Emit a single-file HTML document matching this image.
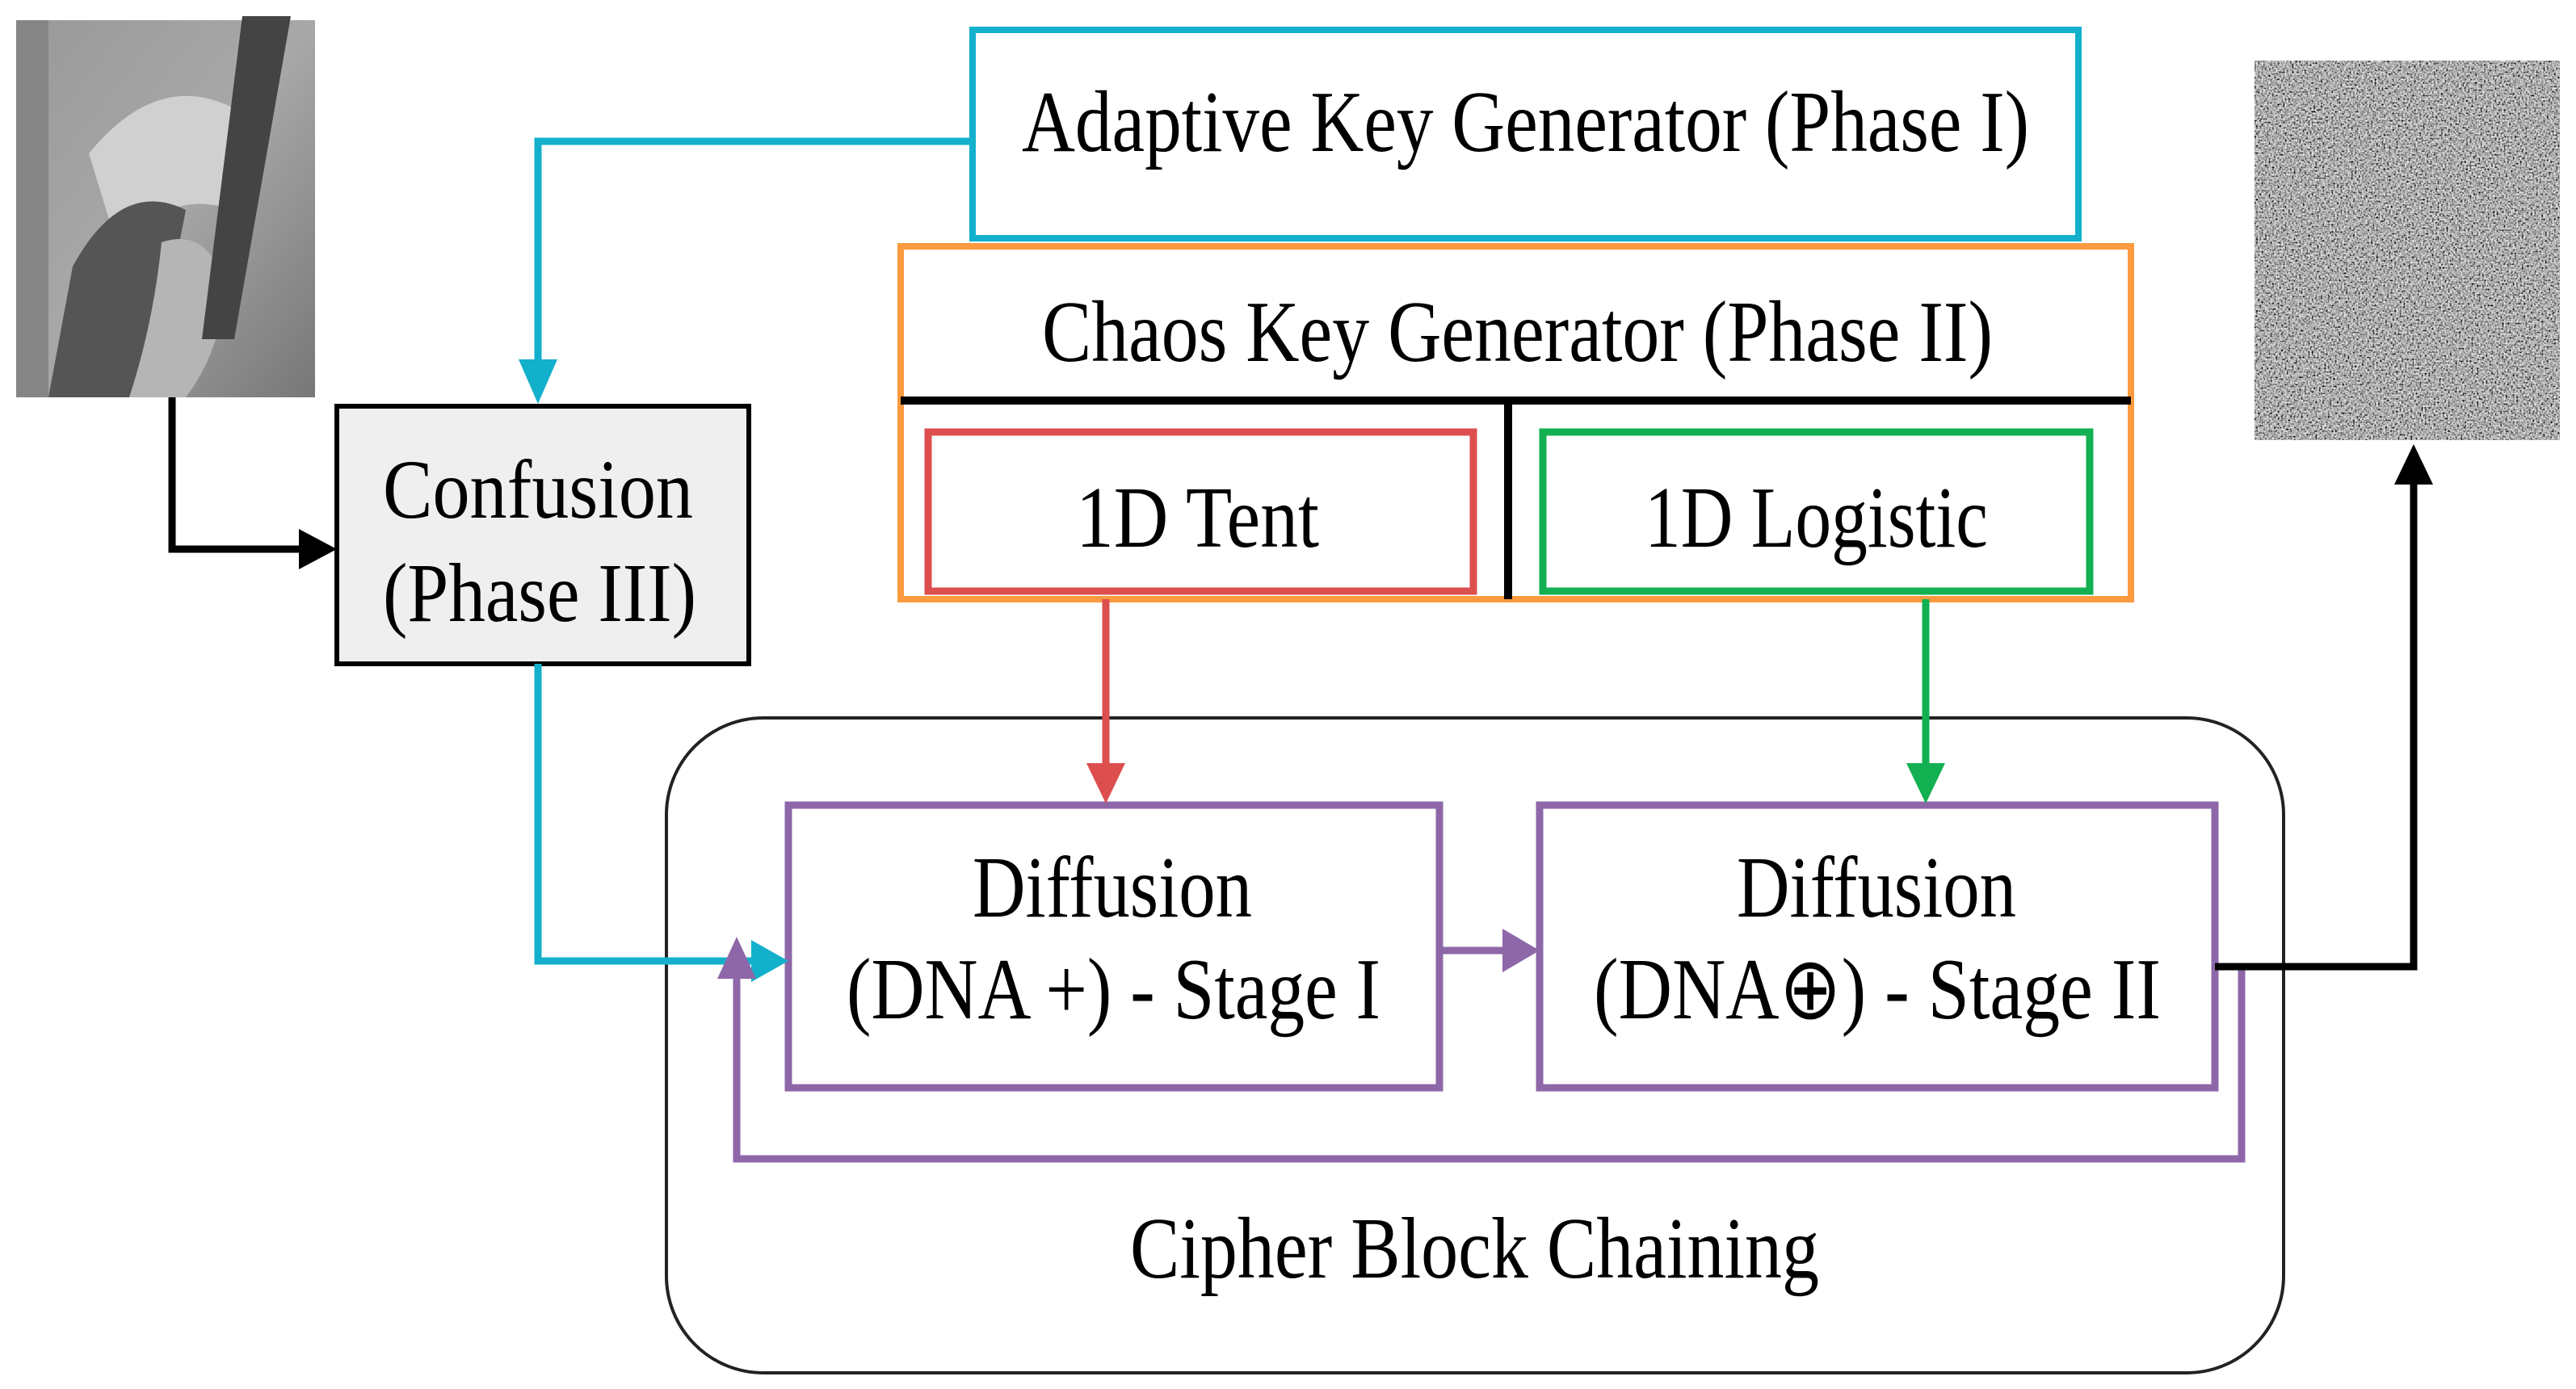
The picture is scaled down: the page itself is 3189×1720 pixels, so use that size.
<!DOCTYPE html>
<html><head><meta charset="utf-8"><style>html,body{margin:0;padding:0;background:#fff}svg{display:block}</style></head>
<body>
<svg width="3189" height="1720" viewBox="0 0 3189 1720" xmlns="http://www.w3.org/2000/svg" font-family="'Liberation Serif', serif">
<defs>
<filter id="gn" x="0" y="0" width="100%" height="100%">
<feTurbulence type="fractalNoise" baseFrequency="0.45" numOctaves="1" seed="5" result="t"/>
<feColorMatrix in="t" type="saturate" values="0" result="g"/>
<feComponentTransfer in="g"><feFuncR type="linear" slope="2.6" intercept="-0.85"/><feFuncG type="linear" slope="2.6" intercept="-0.85"/><feFuncB type="linear" slope="2.6" intercept="-0.85"/><feFuncA type="linear" slope="0" intercept="1"/></feComponentTransfer>
</filter>
<linearGradient id="lg" x1="0" y1="0" x2="1" y2="1"><stop offset="0" stop-color="#999"/><stop offset="0.5" stop-color="#a8a8a8"/><stop offset="1" stop-color="#777"/></linearGradient>
</defs>

<!-- Lena approx -->
<rect x="20" y="25" width="370" height="467" fill="url(#lg)"/>
<path d="M110 190 Q200 80 300 140 Q330 200 290 260 Q200 230 150 320 Z" fill="#d0d0d0"/>
<path d="M90 330 Q150 220 230 260 Q200 420 160 492 L60 492 Z" fill="#555"/>
<path d="M200 300 Q260 280 280 360 Q270 440 230 492 L160 492 Q190 400 200 300Z" fill="#b5b5b5"/>
<path d="M300 20 L360 20 L290 420 L250 420 Z" fill="#444"/>
<rect x="20" y="25" width="40" height="467" fill="#858585"/>

<!-- Noise image -->
<rect x="2791" y="75" width="378" height="470" fill="#777"/>
<rect x="2791" y="75" width="378" height="470" filter="url(#gn)" opacity="0.9"/>

<!-- Adaptive key generator -->
<rect x="1204" y="37" width="1369" height="258" fill="#fff" stroke="#13b0cc" stroke-width="8"/>
<text x="1265" y="187" font-size="108" textLength="1247" lengthAdjust="spacingAndGlyphs">Adaptive Key Generator (Phase I)</text>

<!-- Chaos box -->
<rect x="1115" y="305" width="1523" height="437" fill="#fff" stroke="#fb9a3e" stroke-width="8"/>
<line x1="1115" y1="496" x2="2638" y2="496" stroke="#000" stroke-width="10"/>
<line x1="1867" y1="496" x2="1867" y2="742" stroke="#000" stroke-width="10"/>
<text x="1290" y="447" font-size="108" textLength="1177" lengthAdjust="spacingAndGlyphs">Chaos Key Generator (Phase II)</text>
<rect x="1149" y="535" width="675" height="197" fill="#fff" stroke="#dd4e4e" stroke-width="9"/>
<text x="1332" y="677" font-size="108" textLength="301" lengthAdjust="spacingAndGlyphs">1D Tent</text>
<rect x="1910" y="535" width="677" height="197" fill="#fff" stroke="#12b050" stroke-width="9"/>
<text x="2036" y="677" font-size="108" textLength="425" lengthAdjust="spacingAndGlyphs">1D Logistic</text>

<!-- Confusion -->
<rect x="417" y="503" width="510" height="319" fill="#efefef" stroke="#000" stroke-width="6"/>
<text x="474" y="641" font-size="104" textLength="384" lengthAdjust="spacingAndGlyphs">Confusion</text>
<text x="474" y="769" font-size="104" textLength="388" lengthAdjust="spacingAndGlyphs">(Phase III)</text>

<!-- CBC -->
<rect x="825" y="889" width="2002" height="811" rx="120" ry="120" fill="none" stroke="#222" stroke-width="4"/>
<text x="1399" y="1582" font-size="108" textLength="853" lengthAdjust="spacingAndGlyphs">Cipher Block Chaining</text>

<!-- Diffusion boxes -->
<rect x="976" y="997" width="806" height="350" fill="#fff" stroke="#8e67a9" stroke-width="9"/>
<text x="1204" y="1135" font-size="108" textLength="346" lengthAdjust="spacingAndGlyphs">Diffusion</text>
<text x="1048" y="1261" font-size="108" textLength="661" lengthAdjust="spacingAndGlyphs">(DNA +) - Stage I</text>
<rect x="1906" y="997" width="836" height="350" fill="#fff" stroke="#8e67a9" stroke-width="9"/>
<text x="2150" y="1135" font-size="108" textLength="346" lengthAdjust="spacingAndGlyphs">Diffusion</text>
<text x="1973" y="1261" font-size="108" textLength="702" lengthAdjust="spacingAndGlyphs">(DNA⊕) - Stage II</text>

<!-- Connectors -->
<g fill="none" stroke-width="9">
<polyline points="1204,175 666,175 666,455" stroke="#13b0cc"/>
<polyline points="666,822 666,1190 940,1190" stroke="#13b0cc"/>
<polyline points="213,492 213,680 380,680" stroke="#000"/>
<line x1="1369" y1="742" x2="1369" y2="955" stroke="#dd4e4e"/>
<line x1="2384" y1="742" x2="2384" y2="955" stroke="#12b050"/>
<line x1="1782" y1="1177" x2="1870" y2="1177" stroke="#8e67a9"/>
<polyline points="2742,1197 2775,1197 2775,1435 912,1435 912,1205" stroke="#8e67a9"/>
<polyline points="2742,1197 2988,1197 2988,590" stroke="#000"/>
</g>
<g>
<polygon points="642,445 690,445 666,500" fill="#13b0cc"/>
<polygon points="930,1164 976,1190 930,1216" fill="#13b0cc"/>
<polygon points="370,655 417,680 370,705" fill="#000"/>
<polygon points="1345,945 1393,945 1369,995" fill="#dd4e4e"/>
<polygon points="2360,945 2408,945 2384,995" fill="#12b050"/>
<polygon points="1860,1150 1906,1177 1860,1204" fill="#8e67a9"/>
<polygon points="888,1212 936,1212 912,1160" fill="#8e67a9"/>
<polygon points="2964,600 3012,600 2988,550" fill="#000"/>
</g>
</svg>
</body></html>
